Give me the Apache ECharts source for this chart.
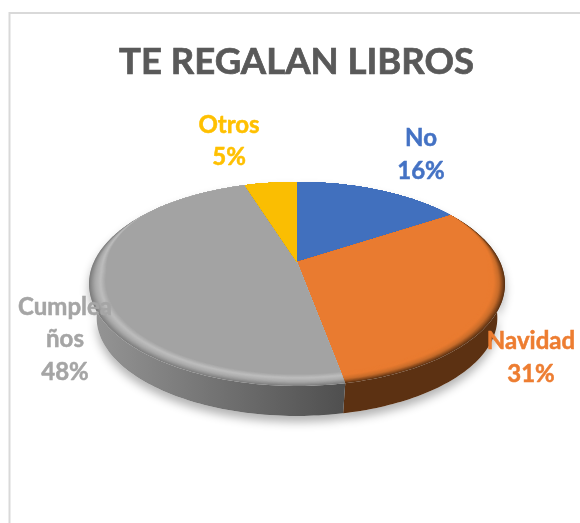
<!DOCTYPE html>
<html>
<head>
<meta charset="utf-8">
<style>
html, body { margin: 0; padding: 0; background: #fff; }
#main { width: 580px; height: 523px; }
</style>
<script src="https://cdn.jsdelivr.net/npm/echarts@6/dist/echarts.min.js"></script>
</head>
<body>
<div id="main"></div>
<script>
var titleText = 'TE REGALAN LIBROS';
var categories = ['No', 'Navidad', 'Cumpleaños', 'Otros'];
var percents = [16, 31, 48, 5];
var labelLines = ['No', 'Navidad', 'Cumplea\nños', 'Otros'];

var colors = ['#4472C4', '#ED7D31', '#A5A5A5', '#FFC000'];
var topColors = ['#4170BE', '#E97B30', '#A3A3A3', '#FABE02'];
var rimColors = [
    ['#4170BE', '#4170BE', '#3A62A8', '#2A4A80'],
    ['#E97B30', '#E97B30', '#C86C2A', '#5F3313'],
    ['#A3A3A3', '#BEBEBE', '#A8A8A8', '#7E7E7E'],
    ['#FABE02', '#FABE02', '#C89600', '#8F6C00']
];
var wallColors = [
    ['#2A4A80', '#2A4A80'],
    ['#63361A', '#5C3112'],
    ['#969696', '#505050'],
    ['#8F6C00', '#8F6C00']
];
var labelAnchors = [[421, 155], [531, 358], [65, 339.5], [229, 141.5]];

// pie seen in perspective: centre, half axes, foreshortening
var cx = 297, cy = 262, A = 203.1, B = 97.3, K = 0.215;
var wallDepth = 35.5, rimSteps = 16, rimInner = 0.925, bottomScale = 0.965;

function project(angle, r, dy) {
    var u = r * Math.sin(angle), v = r * Math.cos(angle);
    var w = 1 + K * v;
    return [cx + A * u / w, cy - B * v / w + dy];
}

// the rounded edge only shows towards the viewer, none at the back
function rimShare(angle) {
    var f = (0.55 - Math.cos(angle)) / 0.65;
    return Math.max(0, Math.min(1, f));
}

var total = percents.reduce(function (a, b) { return a + b; }, 0);
function sliceAngles(idx) {
    var before = 0;
    for (var i = 0; i < idx; i++) before += percents[i];
    return [before / total * Math.PI * 2, (before + percents[idx]) / total * Math.PI * 2];
}

function arcPoints(a0, a1, rimT, wall) {
    var n = Math.max(4, Math.ceil((a1 - a0) / 0.02)), pts = [];
    for (var i = 0; i <= n; i++) {
        var ang = a0 + (a1 - a0) * i / n;
        if (wall) {
            pts.push(project(ang, bottomScale, wallDepth));
        } else {
            pts.push(project(ang, 1 - (1 - rimT) * (1 - rimInner) * rimShare(ang), 0));
        }
    }
    return pts;
}

function wallShape(i) {
    var a = sliceAngles(i);
    return arcPoints(a[0], a[1], 1, false).concat(arcPoints(a[0], a[1], 1, true).reverse());
}

function renderShadow(params, api) {
    return {
        type: 'polygon',
        shape: { points: wallShape(params.dataIndex) },
        style: {
            fill: '#fff',
            shadowColor: 'rgba(0,0,0,0.3)',
            shadowBlur: 10,
            shadowOffsetY: 6
        }
    };
}

function renderWall(params, api) {
    var i = params.dataIndex;
    return {
        type: 'polygon',
        shape: { points: wallShape(i) },
        style: {
            fill: {
                type: 'linear', global: true, x: 89, y: 0, x2: 341, y2: 0,
                colorStops: [
                    { offset: 0, color: wallColors[i][0] },
                    { offset: 1, color: wallColors[i][1] }
                ]
            }
        }
    };
}

function renderTop(params, api) {
    var i = params.dataIndex, a = sliceAngles(i), children = [];
    for (var s = rimSteps; s >= 0; s--) {
        var t = s / rimSteps;
        var pts = [[cx, cy]].concat(arcPoints(a[0], a[1], t, false));
        children.push({
            type: 'polygon',
            shape: { points: pts },
            style: { fill: s === 0 ? topColors[i] : echarts.color.lerp(t, rimColors[i]) }
        });
    }
    return { type: 'group', children: children };
}

function renderLabel(params, api) {
    var i = params.dataIndex;
    return {
        type: 'text',
        style: {
            x: labelAnchors[i][0],
            y: labelAnchors[i][1],
            text: labelLines[i] + '\n' + percents[i] + '%',
            fill: colors[i],
            stroke: colors[i],
            lineWidth: 0.5,
            font: 'bold 24px Lato',
            lineHeight: 32.5,
            align: 'center',
            verticalAlign: 'middle'
        }
    };
}

var myChart = echarts.init(document.getElementById('main'), null, { width: 580, height: 523 });

myChart.setOption({
    animation: false,
    title: {
        text: titleText,
        left: 291.5,
        top: 39,
        textAlign: 'center',
        textStyle: {
            fontFamily: 'Lato', fontWeight: 'bold', fontSize: 36.5, color: '#595959',
            textBorderColor: '#595959', textBorderWidth: 0.7
        }
    },
    graphic: [{
        type: 'rect',
        silent: true,
        shape: { x: 9.5, y: 13, width: 800, height: 800 },
        style: { fill: 'none', stroke: '#D9D9D9', lineWidth: 2 }
    }],
    series: [
        { type: 'custom', name: 'sombra', coordinateSystem: 'none', silent: true, z: 1,
          data: percents, renderItem: renderShadow },
        { type: 'custom', name: 'pared', coordinateSystem: 'none', silent: true, z: 2,
          data: percents, renderItem: renderWall },
        { type: 'custom', name: 'TE REGALAN LIBROS', coordinateSystem: 'none', silent: true, z: 3,
          data: percents, renderItem: renderTop },
        { type: 'custom', name: 'etiquetas', coordinateSystem: 'none', silent: true, z: 4,
          data: percents, renderItem: renderLabel }
    ]
});
</script>
</body>
</html>
